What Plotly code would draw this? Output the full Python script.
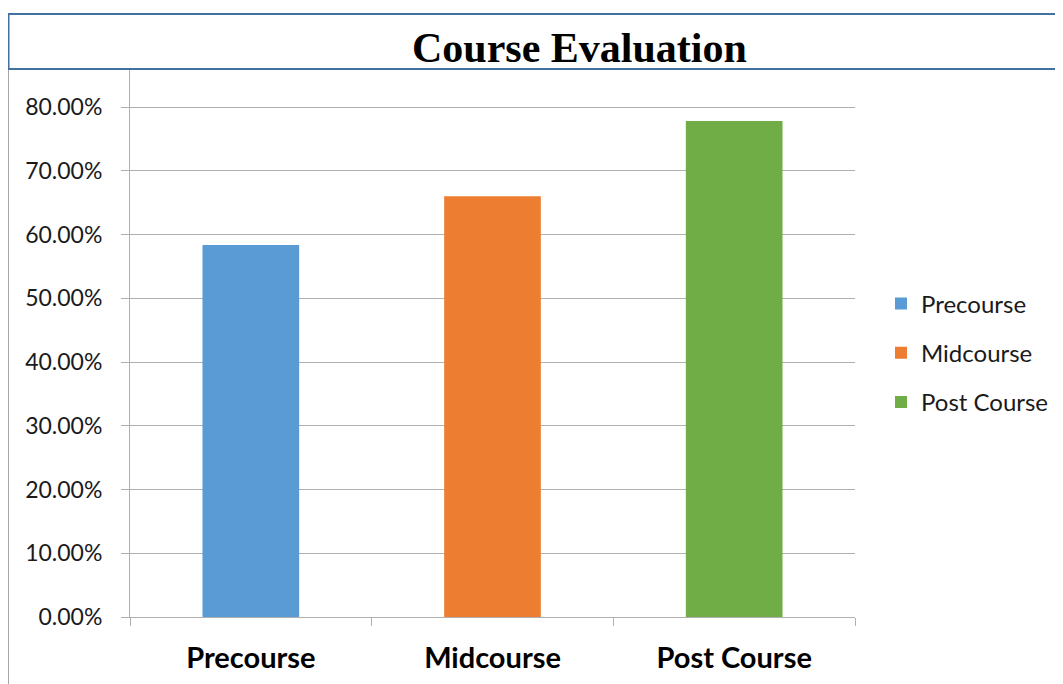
import plotly.graph_objects as go

categories = ["Precourse", "Midcourse", "Post Course"]
values = [0.5835, 0.660, 0.778]
colors = ["#5B9BD5", "#ED7D31", "#70AD47"]
y_ticks = [0, 0.1, 0.2, 0.3, 0.4, 0.5, 0.6, 0.7, 0.8]

OFF = 8  # page body margin
W, H = 1063 - OFF, 684 - OFF
L, R, T, B = 130 - OFF, 855 - OFF, 69 - OFF, 617 - OFF


def px(x):
    return (x - OFF - L) / (R - L)


def py(y):
    return (B - (y - OFF)) / (B - T)


fig = go.Figure()
for c, v, col in zip(categories, values, colors):
    fig.add_trace(go.Bar(x=[c], y=[v], name=c, marker=dict(color=col, line=dict(width=0)),
                         width=0.4, legendgroup=c))

grid = "#b0b0b0"
blue = "#41719C"
fig.update_layout(
    width=W, height=H,
    margin=dict(l=L, r=W - R, t=T, b=H - B, autoexpand=False),
    paper_bgcolor="white", plot_bgcolor="white",
    barmode="overlay",
    showlegend=True,
    legend=dict(x=px(881), xanchor="left", y=py(353), yanchor="middle",
                font=dict(family="Lato", size=24, color="#1a1a1a"),
                tracegroupgap=15, bgcolor="rgba(0,0,0,0)"),
    xaxis=dict(categoryorder="array", categoryarray=categories, tickson="boundaries",
               ticks="outside", ticklen=8, tickcolor=grid, showline=True, linecolor=grid,
               linewidth=1, showgrid=False, ticklabelstandoff=15,
               tickfont=dict(family="Lato", size=29, color="black", weight="bold")),
    yaxis=dict(range=[0, (B - T) / 637.5], tickvals=y_ticks,
               tickformat=".2%", ticks="outside", ticklen=8, tickcolor=grid,
               showline=True, linecolor=grid, linewidth=1, showgrid=True,
               gridcolor=grid, gridwidth=1, zeroline=False, ticklabelstandoff=14,
               tickfont=dict(family="Lato", size=23, color="#1a1a1a")),
    shapes=[
        dict(type="line", xref="paper", yref="paper", x0=px(7), x1=px(1063), y0=py(14), y1=py(14),
             line=dict(color=blue, width=2)),
        dict(type="line", xref="paper", yref="paper", x0=px(7), x1=px(1063), y0=py(69), y1=py(69),
             line=dict(color=blue, width=2)),
        dict(type="line", xref="paper", yref="paper", x0=px(8.5), x1=px(8.5), y0=py(14), y1=py(69),
             line=dict(color=blue, width=2)),
        dict(type="line", xref="paper", yref="paper", x0=px(8.5), x1=px(8.5), y0=py(70), y1=py(684),
             line=dict(color="#a6a6a6", width=1)),
    ],
    annotations=[
        dict(text="<b>Course Evaluation</b>", xref="paper", yref="paper", x=px(579), y=py(48),
             xanchor="center", yanchor="middle", showarrow=False,
             font=dict(family="Liberation Serif", size=42, color="black")),
    ],
)

fig.write_html("out.html")
